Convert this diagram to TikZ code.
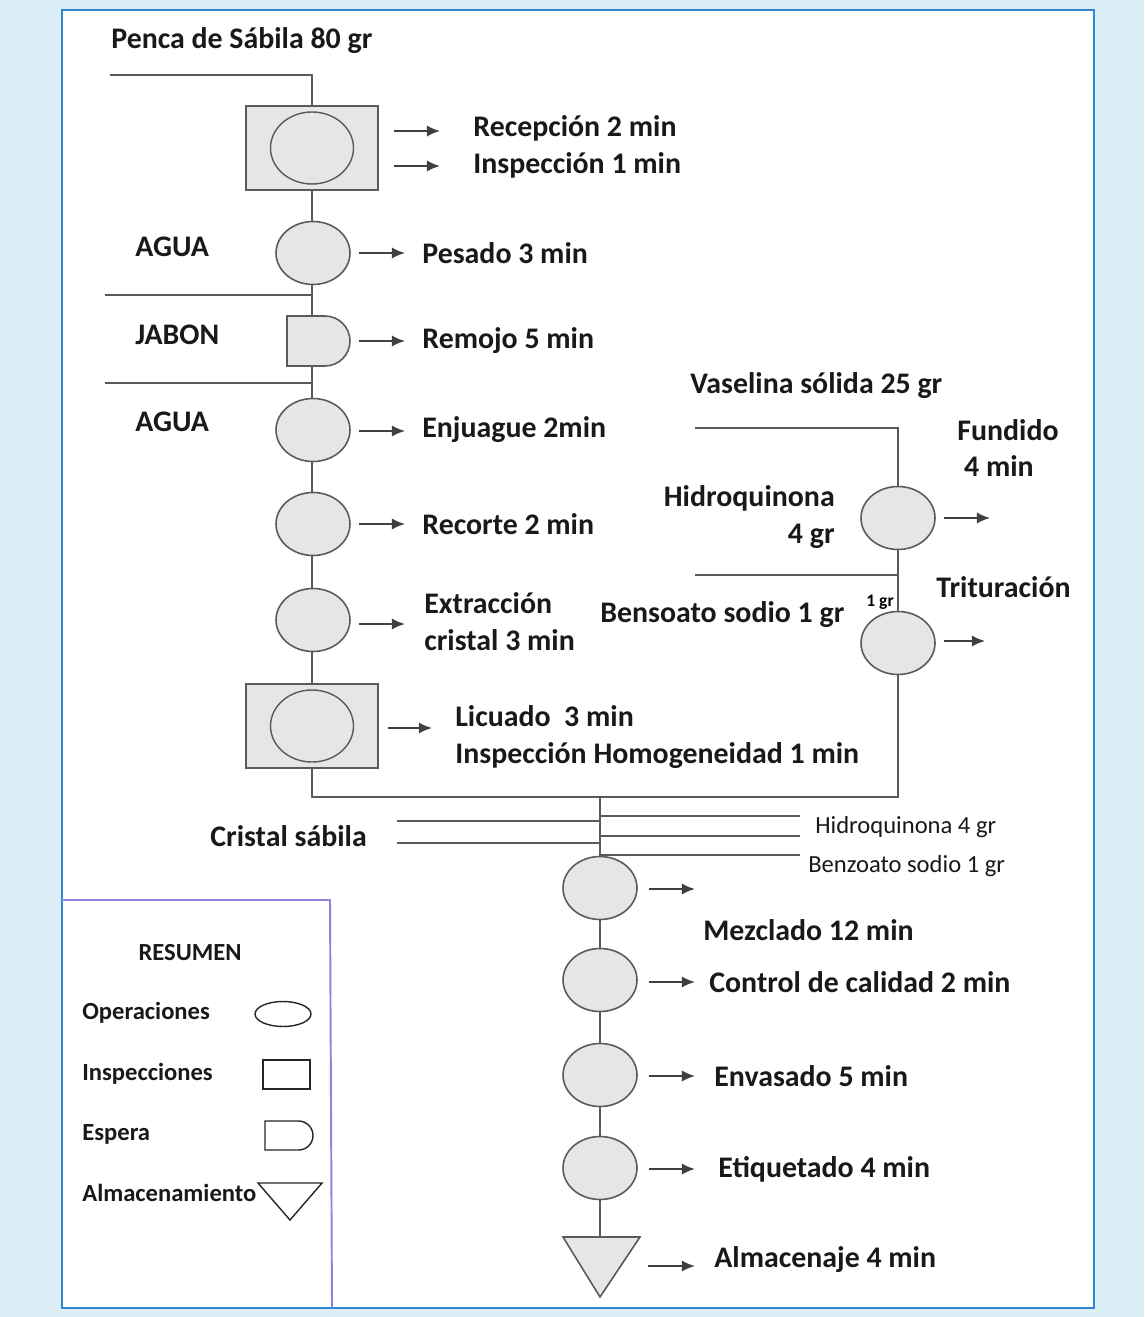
\documentclass[tikz,border=0pt]{standalone}
\usepackage{fontspec}
\setmainfont{Carlito}
\usetikzlibrary{arrows.meta,shapes.geometric,shapes.misc}
\definecolor{bgblue}{HTML}{DCEEF6}
\definecolor{frameblue}{HTML}{2E86D4}
\definecolor{shapefill}{HTML}{E6E6E6}
\definecolor{linegray}{HTML}{5A5A5A}
\definecolor{legendline}{HTML}{8A86E0}
\pgfdeclarelayer{back}
\pgfdeclarelayer{lines}
\pgfsetlayers{back,lines,main}
\begin{document}
\begin{tikzpicture}[x=0.02cm,y=-0.02cm,
  txt/.style={anchor=west,inner sep=0pt,font=\fontsize{17}{20}\selectfont\bfseries,text=black!90},
  txtml/.style={txt,align=left,font=\fontsize{17}{21}\selectfont\bfseries},
  small/.style={anchor=west,inner sep=0pt,font=\fontsize{14}{16}\selectfont,text=black!90},
  leg/.style={anchor=west,inner sep=0pt,font=\fontsize{14}{16}\selectfont\bfseries,text=black!90},
  op/.style={ellipse,draw=linegray,fill=shapefill,line width=0.9pt,minimum width=1.48cm,minimum height=1.26cm,inner sep=0pt},
  insp/.style={rectangle,draw=linegray,fill=shapefill,line width=0.9pt,minimum width=2.64cm,minimum height=1.68cm,inner sep=0pt},
  inop/.style={ellipse,draw=linegray,fill=shapefill,line width=0.8pt,minimum width=1.66cm,minimum height=1.44cm,inner sep=0pt},
  wait/.style={rounded rectangle,rounded rectangle left arc=none,draw=linegray,fill=shapefill,line width=0.9pt,minimum width=1.26cm,minimum height=1.0cm,inner sep=0pt},
  conn/.style={draw=linegray,line width=1.1pt},
  arr/.style={draw=black!75,line width=1.2pt,-{Latex[length=7.5pt,width=6.5pt]}},
  legshape/.style={draw=black!85,line width=0.8pt,fill=white,inner sep=0pt}
]
% background and frame
\begin{pgfonlayer}{back}
\fill[bgblue] (0,0) rectangle (1144,1317);
\fill[white] (62,10) rectangle (1094,1308);
\draw[frameblue,line width=1.1pt] (62,10) rectangle (1094,1308);
\draw[legendline,line width=1.1pt] (62,900) -- (330,900) -- (332,1308);
\end{pgfonlayer}

% ---------- main column ----------
\node[insp] (box1) at (312,148) {};
\node[inop] (box1o) at (312,148) {};
\node[op] (pes) at (313,253) {};
\node[wait] (rem) at (318.5,341) {};
\node[op] (enj) at (313,430) {};
\node[op] (rec) at (313,524) {};
\node[op] (ext) at (313,620) {};
\node[insp] (box2) at (312,726) {};
\node[inop] (box2o) at (312,726) {};

% ---------- right branch ----------
\node[op] (fun) at (898,518) {};
\node[op] (tri) at (898,643) {};

% ---------- lower column ----------
\node[op] (mez) at (600,888) {};
\node[op] (con) at (600,980) {};
\node[op] (env) at (600,1075) {};
\node[op] (eti) at (600,1168) {};
\draw[draw=linegray,fill=shapefill,line width=0.9pt] (563,1237) -- (640,1237) -- (600,1297) -- cycle;
\coordinate (alm) at (600,1237);

% coordinates for free ends
\coordinate (pin) at (110,75);
\coordinate (w1) at (105,295);
\coordinate (w2) at (105,383);
\coordinate (vas) at (695,428);
\coordinate (hq) at (695,575);
\coordinate (join) at (600,797);
\coordinate (cs1) at (397,821);
\coordinate (cs2) at (397,843);
\coordinate (r1) at (800,816);
\coordinate (r2) at (800,836);
\coordinate (r3) at (800,855);
\coordinate (funout) at (990,518);
\coordinate (triout) at (985,641);
\coordinate (mezout) at (695,889);
\coordinate (almin) at (648,1266);
\coordinate (almout) at (695,1266);

% connectors
\begin{pgfonlayer}{lines}
\draw[conn] (pin) -| (box1.north);
\draw[conn] (box1.south) -- (box2.north);
\draw[conn] (w1) -- (w1 -| pes);
\draw[conn] (w2) -- (w2 -| pes);
\draw[conn] (vas) -| (fun.north);
\draw[conn] (fun.south) -- (tri.north);
\draw[conn] (hq) -- (hq -| fun);
\draw[conn] (tri.south) |- (join);
\draw[conn] (box2.south) |- (join);
\draw[conn] (join) -- (mez.north);
\draw[conn] (cs1) -- (cs1 -| join);
\draw[conn] (cs2) -- (cs2 -| join);
\draw[conn] (r1) -- (r1 -| join);
\draw[conn] (r2) -- (r2 -| join);
\draw[conn] (r3) -- (r3 -| join);
\draw[conn] (mez.south) -- (con.north);
\draw[conn] (con.south) -- (env.north);
\draw[conn] (env.south) -- (eti.north);
\draw[conn] (eti.south) -- (alm);
\end{pgfonlayer}

% ---------- texts ----------
\node[txt] (tpen) at (111,41) {Penca de Sábila 80 gr};
\node[txt] (trec) at (473,128) {Recepción 2 min};
\node[txt] (tins) at (473,165) {Inspección 1 min};
\node[txt] (tag1) at (135,247) {AGUA};
\node[txt] (tjab) at (135,335) {JABON};
\node[txt] (tag2) at (135,422) {AGUA};
\node[txt] (tpes) at (422,253) {Pesado 3 min};
\node[txt] (trem) at (422,341) {Remojo 5 min};
\node[txt] (tenj) at (422,430) {Enjuague 2min};
\node[txt] (trct) at (422,524) {Recorte 2 min};
\node[txtml] (text) at (424,622) {Extracción\\cristal 3 min};
\node[txtml] (tlic) at (455,737) {Licuado\ \ 3 min\\Inspección Homogeneidad 1 min};
\node[txt] (tvas) at (690,386) {Vaselina sólida 25 gr};
\node[txtml,anchor=west] (tfun) at (957,448) {Fundido\\\ 4 min};
\node[txtml,align=right,anchor=east] (thid) at (835,517) {Hidroquinona\\4 gr};
\node[txt] (ttri) at (936,587) {Trituración};
\node[txt] (tben) at (600,615) {Bensoato sodio 1 gr};
\node[anchor=west,inner sep=0pt,font=\fontsize{10}{12}\selectfont\bfseries] (t1gr) at (866,602) {1 gr};
\node[txt] (tcs) at (210,836) {Cristal sábila};
\node[small] (thq) at (815,827) {Hidroquinona 4 gr};
\node[small] (tbz) at (808,866) {Benzoato sodio 1 gr};
\node[txt] (tmez) at (703,930) {Mezclado 12 min};
\node[txt] (tcon) at (709,982) {Control de calidad 2 min};
\node[txt] (tenv) at (714,1076) {Envasado 5 min};
\node[txt] (teti) at (718,1169) {Etiquetado 4 min};
\node[txt] (talm) at (714,1260) {Almacenaje 4 min};

% ---------- arrows ----------
\draw[arr] ([shift={(15,-17)}]box1.east) -- ([shift={(-33,3)}]trec.west);
\draw[arr] ([shift={(15,18)}]box1.east) -- ([shift={(-33,1)}]tins.west);
\draw[arr] ([shift={(8,0)}]pes.east) -- ([shift={(-17,0)}]tpes.west);
\draw[arr] ([shift={(8,0)}]rem.east) -- ([shift={(-17,0)}]trem.west);
\draw[arr] ([shift={(8,1)}]enj.east) -- ([shift={(-17,1)}]tenj.west);
\draw[arr] ([shift={(8,0)}]rec.east) -- ([shift={(-17,0)}]trct.west);
\draw[arr] ([shift={(8,4)}]ext.east) -- ([shift={(-19,2)}]text.west);
\draw[arr] ([shift={(9,2)}]box2.east) -- ([shift={(-23,-9)}]tlic.west);
\draw[arr] ([shift={(8,0)}]fun.east) -- (funout);
\draw[arr] ([shift={(8,-2)}]tri.east) -- (triout);
\draw[arr] ([shift={(11,1)}]mez.east) -- (mezout);
\draw[arr] ([shift={(11,2)}]con.east) -- ([shift={(-14,0)}]tcon.west);
\draw[arr] ([shift={(11,1)}]env.east) -- ([shift={(-19,0)}]tenv.west);
\draw[arr] ([shift={(11,1)}]eti.east) -- ([shift={(-23,0)}]teti.west);
\draw[arr] (almin) -- (almout);

% ---------- legend ----------
\node[leg,anchor=center] (lres) at (190,953) {RESUMEN};
\node[leg] (lop) at (82,1013) {Operaciones};
\node[leg] (lin) at (82,1074) {Inspecciones};
\node[leg] (les) at (82,1134) {Espera};
\node[leg] (lal) at (82,1193) {Almacenamiento};
\node[legshape,ellipse,minimum width=1.12cm,minimum height=0.5cm] (sop) at (283,1014) {};
\node[legshape,rectangle,minimum width=0.94cm,minimum height=0.58cm] (sin) at (286.5,1074.5) {};
\node[legshape,rounded rectangle,rounded rectangle left arc=none,minimum width=0.96cm,minimum height=0.58cm] (ses) at (289,1135.5) {};
\draw[draw=black!85,line width=0.8pt,fill=white] (258,1183) -- (322,1183) -- (290,1220) -- cycle;
\end{tikzpicture}
\end{document}
